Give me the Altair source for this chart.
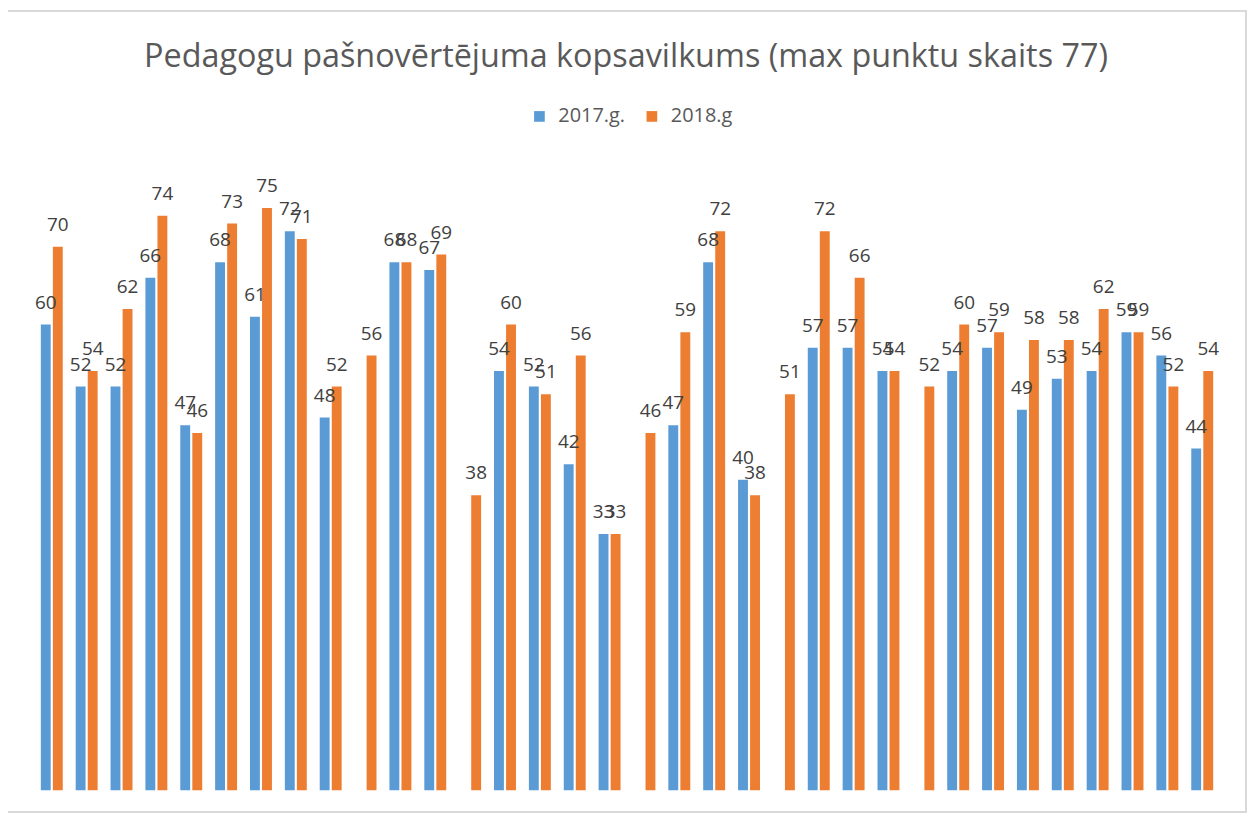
import altair as alt
import pandas as pd

groups = list(range(1, 35))
v2017 = [60, 52, 52, 66, 47, 68, 61, 72, 48, None, 68, 67, None, 54, 52, 42, 33,
         None, 47, 68, 40, None, 57, 57, 54, None, 54, 57, 49, 53, 54, 59, 56, 44]
v2018 = [70, 54, 62, 74, 46, 73, 75, 71, 52, 56, 68, 69, 38, 60, 51, 56, 33,
         46, 59, 72, 38, 51, 72, 66, 54, 52, 60, 59, 58, 58, 62, 59, 52, 54]
series = ["2017.g.", "2018.g"]
colors = ["#5B9BD5", "#ED7D31"]
title_text = "Pedagogu pašnovērtējuma kopsavilkums (max punktu skaits 77)"

rows = []
for g, a, b in zip(groups, v2017, v2018):
    if a is not None:
        rows.append({"g": g, "s": series[0], "v": a})
    if b is not None:
        rows.append({"g": g, "s": series[1], "v": b})
df = pd.DataFrame(rows)

W, H = 1190, 624
FONT = "Open Sans"

x = alt.X("g:O", axis=None,
          scale=alt.Scale(paddingInner=0.371, paddingOuter=0.171))
xo = alt.XOffset("s:N", scale=alt.Scale(domain=series, paddingInner=0.18, paddingOuter=0))
y = alt.Y("v:Q", axis=None, scale=alt.Scale(domain=[0, 80], nice=False))

bars = alt.Chart(df).mark_bar().encode(
    x=x, xOffset=xo, y=y,
    color=alt.Color("s:N", scale=alt.Scale(domain=series, range=colors),
                    legend=alt.Legend(title=None, orient="none", direction="horizontal",
                                      legendX=497, legendY=-63, symbolType="square",
                                      symbolSize=115, symbolStrokeWidth=0,
                                      labelFont=FONT, labelFontSize=20,
                                      labelColor="#595959", columnPadding=16,
                                      symbolOffset=0, padding=0, labelOffset=9)),
)

labels = alt.Chart(df).mark_text(font=FONT, fontSize=19, color="#404040",
                                 baseline="alphabetic", dy=-16).encode(
    x=x, xOffset=xo, y=y, text=alt.Text("v:Q"),
)

meta = pd.DataFrame({"t": [title_text]})
frame = alt.Chart(meta).mark_rect(fill="transparent", stroke="#d9d9d9",
                                  strokeWidth=2).encode(
    x=alt.value(-30), x2=alt.value(1217), y=alt.value(-159), y2=alt.value(646),
)
title = alt.Chart(meta).mark_text(font=FONT, fontSize=32.5, color="#595959",
                                  baseline="alphabetic", align="center").encode(
    x=alt.value(594), y=alt.value(-103), text="t:N",
)

chart = alt.layer(frame, title, bars, labels).properties(
    width=W, height=H,
    autosize=alt.AutoSizeParams(type="none"),
    padding={"left": 27, "top": 160, "right": 30, "bottom": 24},
).configure_view(stroke=None)

chart.save("out.html", embed_options={"renderer": "svg", "actions": False})
